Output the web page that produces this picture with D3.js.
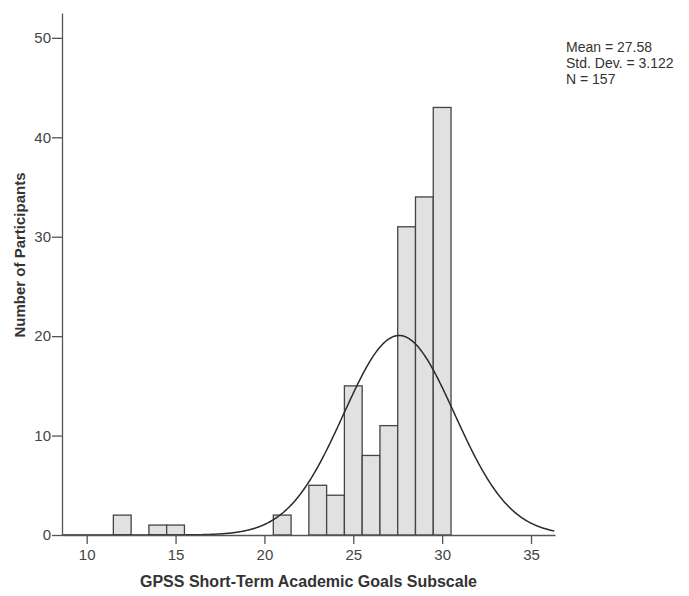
<!DOCTYPE html>
<html>
<head>
<meta charset="utf-8">
<script src="https://cdn.jsdelivr.net/npm/d3@7"></script>
<style>
  html, body { margin: 0; padding: 0; background: #fff; }
  svg { display: block; font-family: "Liberation Sans", Arial, sans-serif; }
</style>
</head>
<body>
<svg id="chart" width="689" height="596"></svg>
<script>
// Score bins (bin centres) and counts of participants
const scores = [12, 14, 15, 21, 23, 24, 25, 26, 27, 28, 29, 30];
const counts = [2, 1, 1, 2, 5, 4, 15, 8, 11, 31, 34, 43];
const xTicks = [10, 15, 20, 25, 30, 35];
const yTicks = [0, 10, 20, 30, 40, 50];
const statLines = ["Mean = 27.58", "Std. Dev. = 3.122", "N = 157"];
const mean = 27.58, sd = 3.122, n = 157;

const svg = d3.select("#chart");
const plotLeft = 62, plotRight = 555, plotTop = 13, plotBottom = 535;

const x = d3.scaleLinear().domain([8.61, 36.35]).range([plotLeft, plotRight]);
const y = d3.scaleLinear().domain([0, 52.5]).range([plotBottom, plotTop]);

const axisColor = "#555";
const textColor = "#444";

// Bars
svg.append("g").selectAll("rect")
  .data(scores.map((s, i) => ({ s, c: counts[i] })))
  .join("rect")
  .attr("x", d => x(d.s - 0.5))
  .attr("width", d => x(d.s + 0.5) - x(d.s - 0.5))
  .attr("y", d => y(d.c))
  .attr("height", d => y(0) - y(d.c))
  .attr("fill", "#e1e1e1")
  .attr("stroke", "#444")
  .attr("stroke-width", 1.3);

// Normal curve scaled to counts (bin width 1)
const pdf = v => n / (sd * Math.sqrt(2 * Math.PI)) * Math.exp(-0.5 * ((v - mean) / sd) ** 2);
const curvePts = d3.range(8.61, 36.36, 0.05).map(v => [v, pdf(v)]);
svg.append("path")
  .datum(curvePts)
  .attr("fill", "none")
  .attr("stroke", "#2a2a2a")
  .attr("stroke-width", 1.5)
  .attr("d", d3.line().x(d => x(d[0])).y(d => y(d[1])));

// X axis
const xAxis = svg.append("g")
  .attr("transform", `translate(0,${plotBottom})`)
  .call(d3.axisBottom(x).tickValues(xTicks).tickSize(9).tickPadding(5).tickSizeOuter(0));
// Y axis
const yAxis = svg.append("g")
  .attr("transform", `translate(${plotLeft},0)`)
  .call(d3.axisLeft(y).tickValues(yTicks).tickSize(10).tickPadding(1).tickSizeOuter(0));

[xAxis, yAxis].forEach(g => {
  g.select(".domain").attr("stroke", axisColor).attr("stroke-width", 1.3);
  g.selectAll(".tick line").attr("stroke", axisColor).attr("stroke-width", 1.3);
  g.selectAll(".tick text").attr("fill", textColor).attr("font-size", 15)
    .attr("font-family", "Liberation Sans, Arial, sans-serif");
});

// Axis titles
svg.append("text")
  .attr("x", (plotLeft + plotRight) / 2)
  .attr("y", 587)
  .attr("text-anchor", "middle")
  .attr("font-size", 16)
  .attr("font-weight", "bold")
  .attr("fill", "#333")
  .text("GPSS Short-Term Academic Goals Subscale");

svg.append("text")
  .attr("transform", "translate(25,255) rotate(-90)")
  .attr("text-anchor", "middle")
  .attr("font-size", 15)
  .attr("font-weight", "bold")
  .attr("fill", "#333")
  .text("Number of Participants");

// Summary statistics
svg.append("g").selectAll("text")
  .data(statLines)
  .join("text")
  .attr("x", 566)
  .attr("y", (d, i) => 52 + i * 16)
  .attr("font-size", 14)
  .attr("fill", "#333")
  .text(d => d);
</script>
</body>
</html>
